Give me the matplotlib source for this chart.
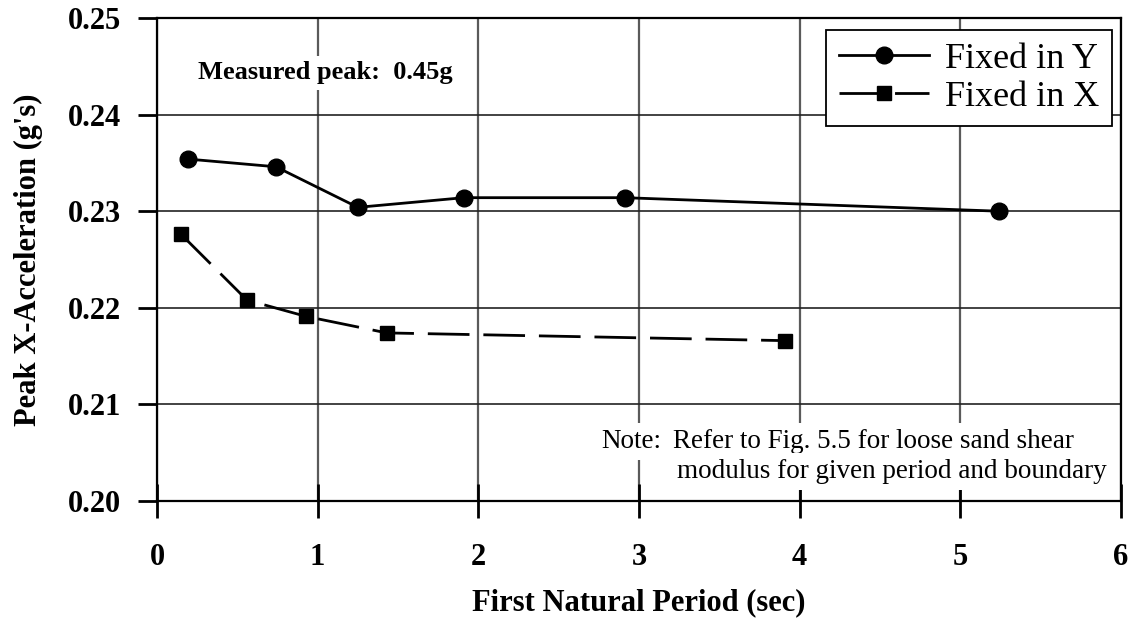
import matplotlib.pyplot as plt

plt.rcParams['font.family'] = ['Liberation Serif', 'DejaVu Serif']

# peak acceleration vs first natural period, two boundary conditions
period_y = [0.19, 0.74, 1.25, 1.91, 2.91, 5.24]
accel_y = [0.2354, 0.2346, 0.2304, 0.2314, 0.2314, 0.2300]

period_x = [0.15, 0.56, 0.93, 1.43, 3.91]
accel_x = [0.2276, 0.2208, 0.2191, 0.2174, 0.2166]

x_ticks = [0, 1, 2, 3, 4, 5, 6]
y_ticks = [0.20, 0.21, 0.22, 0.23, 0.24, 0.25]

fig = plt.figure(figsize=(11.37, 6.36), dpi=100)
ax = fig.add_axes([157 / 1137, 1 - 501 / 636, 964 / 1137, 483 / 636])

ax.plot(period_y, accel_y, color='black', lw=2, marker='o', markersize=12,
        label='Fixed in Y', zorder=4)
ax.plot(period_x, accel_x, color='black', lw=2, marker='s', markersize=10.5,
        dashes=[15, 5], label='Fixed in X', zorder=4)

ax.set_xlim(0, 6)
ax.set_ylim(0.20, 0.25)
ax.set_xticks(x_ticks)
ax.set_yticks(y_ticks)
ax.set_xticklabels([str(t) for t in x_ticks])
ax.set_yticklabels(['%.2f' % t for t in y_ticks])

# black horizontal grid, grey vertical grid
ax.yaxis.grid(True, color='#222222', lw=1.2)
ax.xaxis.grid(True, color='#5a5a5a', lw=1.6)
ax.set_axisbelow(True)

for s in ax.spines.values():
    s.set_linewidth(1.6)
    s.set_color('black')

ax.tick_params(axis='x', direction='inout', length=24, width=2,
               labelsize=22, pad=18)
ax.tick_params(axis='y', direction='out', length=14, width=2,
               labelsize=22, pad=12)
for lab in ax.get_xticklabels() + ax.get_yticklabels():
    lab.set_fontweight('bold')

ax.set_xlabel('First Natural Period (sec)', fontsize=22, fontweight='bold',
              labelpad=12)
ax.set_ylabel("Peak X-Acceleration (g's)", fontsize=22, fontweight='bold',
              labelpad=18)

leg = ax.legend(loc='upper right', bbox_to_anchor=(0.991, 0.975),
                fontsize=26, frameon=True, fancybox=False, framealpha=1,
                handlelength=2.5, handletextpad=0.45, labelspacing=0.12,
                borderpad=0.35, borderaxespad=0)
leg.get_frame().set_edgecolor('black')
leg.get_frame().set_linewidth(1.3)
leg.set_zorder(6)

ax.text(0.043, 0.873, 'Measured peak:  0.45g', transform=ax.transAxes,
        fontsize=19, fontweight='bold', ha='left', va='baseline',
        bbox=dict(facecolor='white', edgecolor='none', pad=4), zorder=5)

# note block, white background hides the grid behind it
box = dict(facecolor='white', edgecolor='none', pad=4)
ax.text(0.461, 0.110, 'Note:', transform=ax.transAxes, fontsize=19.5,
        ha='left', va='baseline', bbox=box, zorder=5)
ax.text(0.535, 0.110, 'Refer to Fig. 5.5 for loose sand shear',
        transform=ax.transAxes, fontsize=19.5, ha='left', va='baseline',
        bbox=box, zorder=5)
ax.text(0.539, 0.048, 'modulus for given period and boundary',
        transform=ax.transAxes, fontsize=19.5, ha='left', va='baseline',
        bbox=box, zorder=5)

fig.savefig('out.png', dpi=100)
